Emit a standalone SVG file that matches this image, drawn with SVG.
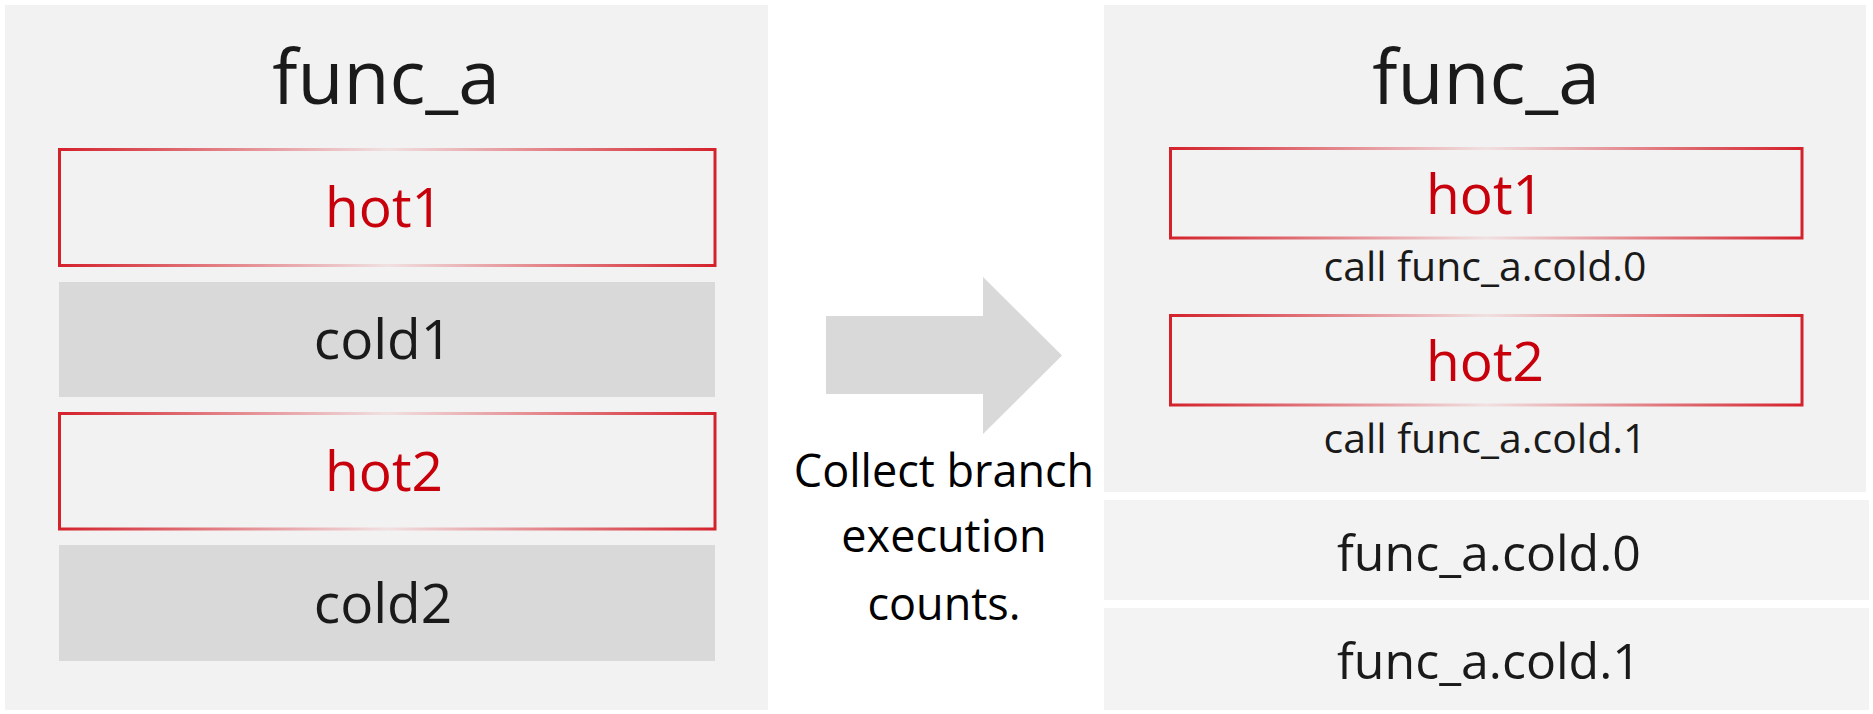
<svg xmlns="http://www.w3.org/2000/svg" width="1873" height="714" viewBox="0 0 1873 714">
  <defs>
    <linearGradient id="redfade" x1="0" y1="0" x2="1" y2="0">
      <stop offset="0" stop-color="#d4222c"/>
      <stop offset="0.5" stop-color="#f1e0e1"/>
      <stop offset="1" stop-color="#d4222c"/>
    </linearGradient>
  </defs>
  <style>
    text { font-family: "Open Sans", "Noto Sans", "Liberation Sans", sans-serif; text-anchor: middle; }
    .panel { fill: #f2f2f2; }
    .panel2 { fill: #f3f3f3; }
    .hot { fill: none; stroke: url(#redfade); stroke-width: 3; }
    .cold { fill: #d9d9d9; }
    .title { font-size: 75px; fill: #1a1a1a; }
    .hotText { font-size: 55px; fill: #c7000b; }
    .coldText { font-size: 55px; fill: #1a1a1a; }
    .call { font-size: 41px; fill: #1a1a1a; }
    .sec { font-size: 50px; fill: #1a1a1a; }
    .cap { font-size: 45px; fill: #000000; }
  </style>
  <rect width="1873" height="714" fill="#ffffff"/>

  <g id="left-func">
    <rect class="panel" x="5" y="5" width="763" height="705"/>
    <text class="title" x="386" y="104">func_a</text>
  </g>
  <g id="left-hot1">
    <rect class="hot" x="59.5" y="149.5" width="655.5" height="116"/>
    <text class="hotText" x="384" y="227">hot1</text>
  </g>
  <g id="left-cold1">
    <rect class="cold" x="59" y="282" width="656" height="115"/>
    <text class="coldText" x="383" y="358.5">cold1</text>
  </g>
  <g id="left-hot2">
    <rect class="hot" x="59.5" y="413.5" width="655.5" height="115.5"/>
    <text class="hotText" x="384" y="491">hot2</text>
  </g>
  <g id="left-cold2">
    <rect class="cold" x="59" y="545" width="656" height="116"/>
    <text class="coldText" x="383" y="623">cold2</text>
  </g>

  <g id="connectors">
    <polygon fill="#d9d9d9" points="826,316 983,316 983,277 1062,355.5 983,434 983,394 826,394"/>
  </g>
  <g id="caption">
    <text class="cap" x="944" y="487">Collect branch</text>
    <text class="cap" x="944" y="552">execution</text>
    <text class="cap" x="944" y="620">counts.</text>
  </g>

  <g id="right-func">
    <rect class="panel" x="1104" y="5" width="762" height="487"/>
    <text class="title" x="1486" y="104">func_a</text>
  </g>
  <g id="right-hot1">
    <rect class="hot" x="1170.5" y="148.5" width="631.5" height="89.5"/>
    <text class="hotText" x="1485" y="214">hot1</text>
    <text class="call" x="1485" y="281">call func_a.cold.0</text>
  </g>
  <g id="right-hot2">
    <rect class="hot" x="1170.5" y="315.5" width="631.5" height="89.5"/>
    <text class="hotText" x="1485" y="381">hot2</text>
    <text class="call" x="1485" y="453">call func_a.cold.1</text>
  </g>
  <g id="right-cold0">
    <rect class="panel2" x="1104" y="500" width="765" height="100"/>
    <text class="sec" x="1489" y="571">func_a.cold.0</text>
  </g>
  <g id="right-cold1">
    <rect class="panel2" x="1104" y="608" width="765" height="102"/>
    <text class="sec" x="1489" y="679">func_a.cold.1</text>
  </g>
</svg>
